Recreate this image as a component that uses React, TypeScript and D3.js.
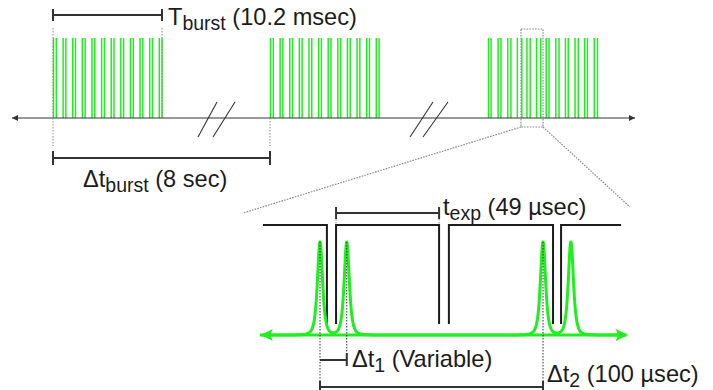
import React from "react";
import * as d3 from "d3";

// Burst timing (top timeline)
const burstStartsSec = [0, 8, 16];
const burstLengthMs = 10.2;
const pulseOffsetsMs = [0, 0.9, 1.8, 2.7, 3.6, 4.5, 5.4, 6.3, 7.2, 8.1, 9.0, 9.9];
// spacing between the two pulses of each pair, per burst (ms)
const pairGapsMs = [
  [0.26, 0.26, 0.26, 0.26, 0.26, 0.26, 0.26, 0.26, 0.26, 0.26, 0.26, 0.26],
  [0.26, 0.26, 0.26, 0.26, 0.26, 0.26, 0.26, 0.26, 0.26, 0.26, 0.26, 0.26],
  [0.24, 0.26, 0.3, 0.42, 0.3, 0.38, 0.26, 0.3, 0.26, 0.3, 0.26, 0.3],
];

// Zoomed detail (µs)
const peakTimesUs = [0, 12, 100, 112.5];
const markedPeaksUs = [0, 12, 100];
const exposureWindowsUs: [number, number][] = [
  [-25.6, 3.1],
  [7.2, 53.4],
  [57.8, 104.5],
  [108.1, 135],
];
const tExpUs = 49;
const dt1Us = 12;
const dt2Us = 100;

const GREEN = "#1fee1f";
const INK = "#1c1c1c";
const GRAY = "#8a8a8a";
const FONT = "'Liberation Sans', Arial, sans-serif";

function Label({ x, y, main, sub, rest }: { x: number; y: number; main: string; sub: string; rest: string }) {
  return (
    <text x={x} y={y} fontSize={23.6} fill={INK} fontFamily={FONT} style={{ whiteSpace: "pre" }}>
      {main}
      <tspan fontSize={19.5} dy={5}>{sub}</tspan>
      <tspan dy={-5}>{" " + rest}</tspan>
    </text>
  );
}

export default function App() {
  const W = 713;
  const H = 390;

  // top timeline scales
  const burstX = d3.scaleLinear().domain([0, 8, 16]).range([53, 270, 488]);
  const inBurst = d3.scaleLinear().domain([0, burstLengthMs]).range([0, 109]);
  const axisY = 118;
  const pulseTop = 38;

  // zoom scales
  const zx = d3.scaleLinear().domain([0, dt2Us]).range([320, 543]);
  const zy = d3.scaleLinear().domain([0, 1]).range([335, 242]);
  const gateY = d3.scaleLinear().domain([0, 1]).range([324, 225]);

  // narrow emission line profile (squared Lorentzian)
  const gamma = 2.1;
  const samples = d3.range(-27, 137, 0.05);
  const profile = (t: number) =>
    d3.sum(peakTimesUs, (p) => {
      const l = (gamma * gamma) / ((t - p) * (t - p) + gamma * gamma);
      return l * l;
    });
  const peakLine = d3
    .line<number>()
    .x((t) => zx(t))
    .y((t) => zy(Math.min(1, profile(t))));

  const gateLine = d3.line<[number, number]>().x((d) => d[0]).y((d) => d[1]);

  const b0 = burstX(0);
  const b0end = b0 + inBurst(burstLengthMs);
  const b1 = burstX(8);

  return (
    <div style={{ position: "absolute", left: 0, top: 0 }}>
      <svg width={W} height={H} viewBox={`0 0 ${W} ${H}`} style={{ display: "block", background: "#fff" }}>
        <defs>
          <marker id="ah" viewBox="0 0 10 10" refX="10" refY="5" markerWidth="8" markerHeight="6" orient="auto-start-reverse" markerUnits="userSpaceOnUse">
            <path d="M0,0 L10,5 L0,10 z" fill="#333" />
          </marker>
          <marker id="gh" viewBox="0 0 10 10" refX="9" refY="5" markerWidth="12" markerHeight="12" orient="auto-start-reverse" markerUnits="userSpaceOnUse">
            <path d="M0,0 L10,5 L0,10 L2,5 z" fill={GREEN} />
          </marker>
        </defs>

        {/* pulse bursts */}
        {burstStartsSec.map((s, bi) =>
          pulseOffsetsMs.map((o, pi) => {
            const x1 = burstX(s) + inBurst(o);
            const x2 = burstX(s) + inBurst(o + pairGapsMs[bi][pi]);
            return (
              <g key={`${bi}-${pi}`}>
                <line x1={x1 + 0.5} x2={x1 + 0.5} y1={pulseTop} y2={axisY} stroke={GREEN} strokeWidth={1.5} />
                <line x1={x2 + 0.5} x2={x2 + 0.5} y1={pulseTop} y2={axisY} stroke={GREEN} strokeWidth={1.5} />
              </g>
            );
          })
        )}

        {/* time axis */}
        <line x1={12} x2={635} y1={axisY} y2={axisY} stroke="#333" strokeWidth={1.1} markerStart="url(#ah)" markerEnd="url(#ah)" />

        {/* axis breaks */}
        {[
          [198, 217, 213, 235],
          [410, 433, 423, 448],
        ].map(([a1, a2, c1, c2], i) => (
          <g key={`br${i}`} stroke="#333" strokeWidth={1.1}>
            <line x1={a1} y1={137} x2={a2} y2={102} />
            <line x1={c1} y1={137} x2={c2} y2={102} />
          </g>
        ))}

        {/* burst edge guides */}
        <g stroke={GRAY} strokeWidth={1} strokeDasharray="1.5,1.5">
          <line x1={b0} x2={b0} y1={28} y2={146} />
          <line x1={b0end} x2={b0end} y1={28} y2={118} />
          <line x1={b1} x2={b1} y1={118} y2={146} />
        </g>

        {/* T_burst bracket */}
        <g stroke="#333" strokeWidth={2}>
          <line x1={b0} x2={b0end} y1={15} y2={15} />
          <line x1={b0} x2={b0} y1={9} y2={21} />
          <line x1={b0end} x2={b0end} y1={9} y2={21} />
        </g>
        <Label x={168} y={25} main="T" sub="burst" rest="(10.2 msec)" />

        {/* Δt_burst bracket */}
        <g stroke="#333" strokeWidth={2}>
          <line x1={b0} x2={b1} y1={158} y2={158} />
          <line x1={b0} x2={b0} y1={151} y2={165} />
          <line x1={b1} x2={b1} y1={151} y2={165} />
        </g>
        <Label x={83} y={187} main="Δt" sub="burst" rest="(8 sec)" />

        {/* zoom box and projection lines */}
        <g stroke={GRAY} strokeWidth={1.2} strokeDasharray="1.6,1.2" fill="none">
          <rect x={521} y={29} width={22} height={98} />
          <line x1={521} y1={127} x2={243} y2={213} />
          <line x1={543} y1={127} x2={630} y2={207} />
        </g>

        {/* exposure gate */}
        {exposureWindowsUs.map(([a, b], i) => {
          const pts: [number, number][] = [];
          if (i > 0) pts.push([zx(a), gateY(0)]);
          pts.push([zx(a), gateY(1)], [zx(b), gateY(1)]);
          if (i < exposureWindowsUs.length - 1) pts.push([zx(b), gateY(0)]);
          return <path key={`g${i}`} d={gateLine(pts) || ""} fill="none" stroke={INK} strokeWidth={2} />;
        })}

        {/* t_exp bracket spans the second exposure window */}
        {(() => {
          const xa = zx(exposureWindowsUs[1][0]);
          const xb = zx(exposureWindowsUs[1][1]);
          return (
            <g>
              <g stroke="#333" strokeWidth={2}>
                <line x1={xa} x2={xb} y1={213} y2={213} />
                <line x1={xa} x2={xa} y1={207} y2={219} />
                <line x1={xb} x2={xb} y1={207} y2={219} />
              </g>
              <g stroke={GRAY} strokeWidth={1} strokeDasharray="1.5,1.5">
                <line x1={xa} x2={xa} y1={219} y2={225} />
                <line x1={xb} x2={xb} y1={219} y2={225} />
              </g>
            </g>
          );
        })()}
        <Label x={443} y={215} main="t" sub="exp" rest={`(${tExpUs} µsec)`} />

        {/* green baseline with double arrow */}
        <line x1={zx(-26)} x2={zx(137.5)} y1={335} y2={335} stroke={GREEN} strokeWidth={3} markerStart="url(#gh)" markerEnd="url(#gh)" />

        {/* emission peaks */}
        <path d={peakLine(samples) || ""} fill="none" stroke={GREEN} strokeWidth={3} strokeLinejoin="round" />

        {/* peak guides */}
        <g stroke="#333" strokeWidth={1} strokeDasharray="1.5,1.5">
          <line x1={zx(markedPeaksUs[0])} x2={zx(markedPeaksUs[0])} y1={242} y2={390} />
          <line x1={zx(markedPeaksUs[1])} x2={zx(markedPeaksUs[1])} y1={242} y2={366} />
          <line x1={zx(markedPeaksUs[2])} x2={zx(markedPeaksUs[2])} y1={242} y2={390} />
        </g>

        {/* Δt1 bracket */}
        <g stroke="#333" strokeWidth={2}>
          <line x1={zx(0)} x2={zx(dt1Us)} y1={360} y2={360} />
          <line x1={zx(dt1Us)} x2={zx(dt1Us)} y1={353} y2={366} />
        </g>
        <Label x={352} y={367} main="Δt" sub="1" rest="(Variable)" />

        {/* Δt2 bracket */}
        <g stroke="#333" strokeWidth={2}>
          <line x1={zx(0)} x2={zx(dt2Us)} y1={387} y2={387} />
          <line x1={zx(0)} x2={zx(0)} y1={381} y2={393} />
          <line x1={zx(dt2Us)} x2={zx(dt2Us)} y1={381} y2={393} />
        </g>
        <Label x={547} y={382} main="Δt" sub="2" rest={`(${dt2Us} µsec)`} />
      </svg>
    </div>
  );
}
